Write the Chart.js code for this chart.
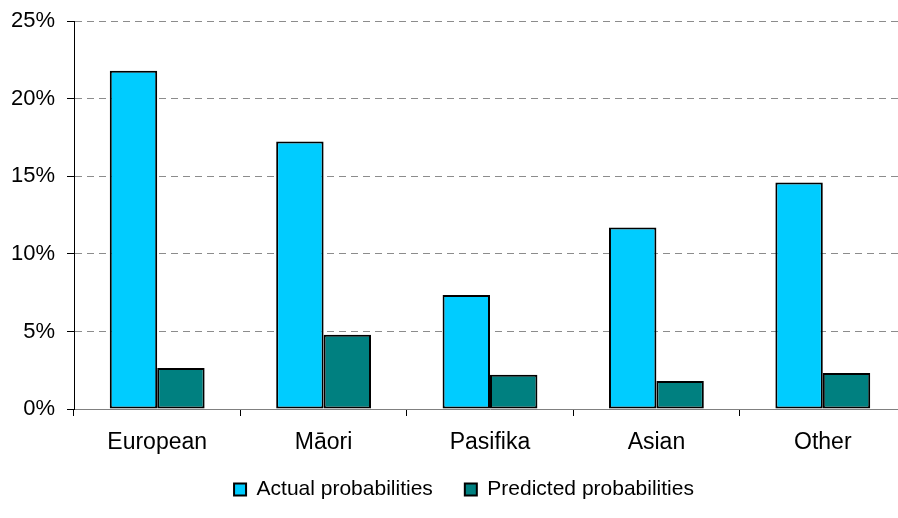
<!DOCTYPE html>
<html>
<head>
<meta charset="utf-8">
<script src="https://cdn.jsdelivr.net/npm/chart.js@4.4.0/dist/chart.umd.min.js"></script>
<style>
html,body{margin:0;padding:0;background:#fff;overflow:hidden;width:898px;height:518px;}
#wrap{position:absolute;left:0;top:-4px;width:924px;height:522px;}
</style>
</head>
<body>
<div id="wrap"><canvas id="c" width="924" height="522"></canvas></div>
<script>
const categories = ["European", "Māori", "Pasifika", "Asian", "Other"];
const actualProbabilities = [21.8, 17.25, 7.35, 11.7, 14.6];
const predictedProbabilities = [2.65, 4.78, 2.2, 1.8, 2.32];
const seriesNames = ["Actual probabilities", "Predicted probabilities"];
const yTicks = [0, 5, 10, 15, 20, 25];

const FONT = "'Liberation Sans', Arial, sans-serif";

const legendShift = {
  id: 'legendShift',
  afterLayout(chart) {
    const lg = chart.legend;
    if (!lg) return;
    lg.left += 11; lg.right += 11;
    lg.top -= 10; lg.bottom -= 10;
  }
};

const ctx = document.getElementById('c').getContext('2d');
new Chart(ctx, {
  type: 'bar',
  plugins: [legendShift],
  data: {
    labels: categories,
    datasets: [
      { label: seriesNames[0], data: actualProbabilities, backgroundColor: '#00CCFF', borderColor: '#000', borderWidth: 2, borderSkipped: false },
      { label: seriesNames[1], data: predictedProbabilities, backgroundColor: '#008080', borderColor: '#000', borderWidth: 2, borderSkipped: false }
    ]
  },
  options: {
    responsive: false,
    animation: false,
    devicePixelRatio: 1,
    layout: { padding: { top: 3, right: 18, left: 0, bottom: -2 } },
    categoryPercentage: 0.57,
    barPercentage: 1.0,
    plugins: {
      tooltip: { enabled: false },
      legend: {
        position: 'bottom',
        labels: {
          font: { family: FONT, size: 21 },
          color: '#000',
          boxWidth: 12,
          boxHeight: 12,
          padding: 32
        }
      }
    },
    scales: {
      x: {
        grid: { display: true, drawOnChartArea: false, offset: true, tickLength: 7, color: '#000', tickColor: '#000' },
        border: { display: true, color: '#808080', width: 1 },
        ticks: { font: { family: FONT, size: 23 }, color: '#000', padding: 13 },
        afterFit: function(s){ s.height = 48; }
      },
      y: {
        min: 0, max: 25,
        afterBuildTicks: function(s){ s.ticks = yTicks.map(v => ({ value: v })); },
        grid: { color: '#8c8c8c', tickLength: 7, tickColor: '#000', tickBorderDash: [0, 0], drawTicks: true },
        border: { display: true, color: '#000', width: 1, dash: [7, 5] },
        ticks: { font: { family: FONT, size: 22 }, color: '#000', padding: 12, callback: v => v + '%' },
        afterFit: function(s){ s.width = 74; }
      }
    }
  }
});
</script>
</body>
</html>
